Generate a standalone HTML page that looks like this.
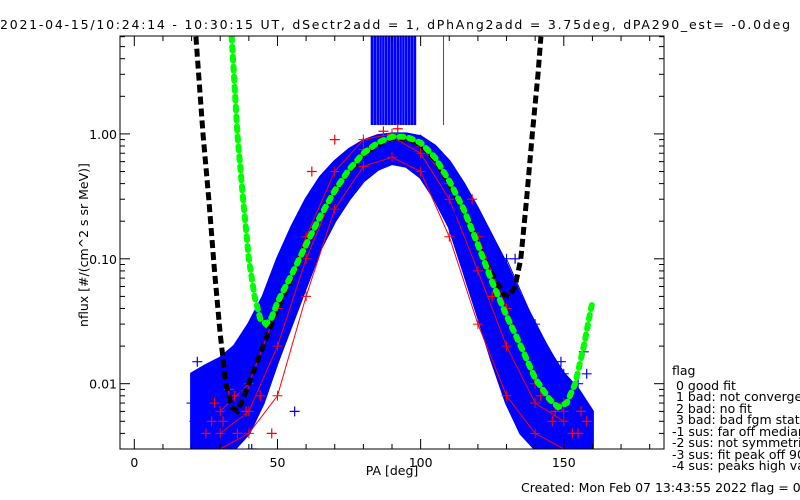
<!DOCTYPE html>
<html><head><meta charset="utf-8">
<style>
html,body{margin:0;padding:0;background:#fff;}
svg{display:block;font-family:"DejaVu Sans","Liberation Sans",sans-serif;}
text{font-size:12.5px;fill:#000;}
</style></head>
<body>
<svg id="chart" width="800" height="500" viewBox="0 0 800 500" xmlns="http://www.w3.org/2000/svg">
<text x="0" y="29" font-size="14" textLength="790" lengthAdjust="spacing">2021-04-15/10:24:14 - 10:30:15 UT, dSectr2add = 1, dPhAng2add = 3.75deg, dPA290_est=  -0.0deg</text>
<g id="data"></g>
<g id="axes"></g>
<text transform="translate(88,245) rotate(-90)" text-anchor="middle" font-size="12">nflux [#/(cm^2 s sr MeV)]</text>
<text x="392" y="475" text-anchor="middle">PA [deg]</text>
<g font-size="13">
<text x="672" y="375" font-size="13">flag</text>
<text x="676" y="390" font-size="13">0 good fit</text>
<text x="676" y="401" font-size="13"> 1 bad: not converge</text>
<text x="676" y="413" font-size="13"> 2 bad: no fit</text>
<text x="676" y="424" font-size="13"> 3 bad: bad fgm stat</text>
<text x="672" y="436" font-size="13">-1 sus: far off median</text>
<text x="672" y="447" font-size="13">-2 sus: not symmetric</text>
<text x="672" y="459" font-size="13">-3 sus: fit peak off 90</text>
<text x="672" y="470" font-size="13">-4 sus: peaks high val</text>
</g>
<text x="521" y="492" font-size="13">Created: Mon Feb 07 13:43:55 2022   flag = 0</text>
</svg>
<script>
const xTicks=[0,50,100,150];
const yTicks=[0.01,0.10,1.00];
const yTickLabels=["0.01","0.10","1.00"];
const bandPA=[20,25,30,35,40,45,50,55,60,65,70,75,80,85,90,95,100,105,110,115,120,125,130,135,140,145,150,155,160];
const bandUpper=[0.012,0.014,0.016,0.02,0.03,0.05,0.1,0.18,0.3,0.45,0.6,0.75,0.88,0.97,1.0,1.0,0.95,0.8,0.6,0.4,0.25,0.15,0.09,0.05,0.03,0.018,0.012,0.009,0.006];
const bandLower=[0.003,0.003,0.003,0.003,0.004,0.007,0.015,0.03,0.06,0.12,0.2,0.3,0.42,0.52,0.58,0.55,0.45,0.3,0.18,0.08,0.035,0.015,0.007,0.004,0.003,0.003,0.003,0.003,0.003];
const greenPA=[34,36,38,40,42,44,46,48,50,55,60,65,70,75,80,85,90,95,100,105,110,115,120,125,130,135,140,145,148,151,154,157,159,160];
const greenFlux=[6,1,0.3,0.1,0.05,0.033,0.03,0.034,0.045,0.075,0.13,0.22,0.35,0.52,0.7,0.85,0.95,0.95,0.85,0.65,0.42,0.25,0.13,0.065,0.035,0.02,0.011,0.0075,0.0065,0.007,0.01,0.02,0.035,0.045];
const blackPA=[21.5,24,26,28,30,32,34,36,38,40,45,50,55,60,65,70,75,80,85,90,95,100,105,110,115,120,125,129,131,133,135,137,139,141,142];
const blackFlux=[6,1,0.3,0.08,0.025,0.01,0.0065,0.006,0.0075,0.01,0.02,0.04,0.07,0.13,0.22,0.35,0.5,0.68,0.82,0.92,0.92,0.82,0.62,0.4,0.24,0.13,0.075,0.052,0.05,0.06,0.1,0.3,1,3,6];
const blueSpikes=[83,84,85,86,87,88,89,90,91,92,93,94,95,96,97,98];
const redSpikes=[108];
const profPA=[30,40,50,60,70,80,90,100,110,120,130,140,150];
const redProf1=[0.004,0.006,0.02,0.1,0.35,0.75,0.95,0.7,0.3,0.08,0.02,0.007,0.005];
const redProf2=[0.006,0.01,0.04,0.15,0.5,0.9,1.0,0.8,0.4,0.15,0.04,0.01,0.006];
const redProf3=[0.003,0.004,0.008,0.05,0.25,0.55,0.65,0.5,0.15,0.03,0.008,0.004,0.003];
const blueProf1=[0.012,0.02,0.06,0.2,0.5,0.85,1.0,0.9,0.5,0.2,0.06,0.02,0.01];
const blueProf2=[0.007,0.01,0.03,0.12,0.4,0.8,0.95,0.75,0.35,0.1,0.1,0.03,0.012];
const redMarkPA=[25,28,31,33,36,39,44,48,142,146,150,153,156,158,62,70,118,125,87,92,27,35,147,155];
const redMarkFlux=[0.004,0.007,0.005,0.009,0.004,0.006,0.008,0.004,0.008,0.005,0.007,0.004,0.006,0.005,0.5,0.9,0.3,0.05,1.05,1.1,0.005,0.008,0.006,0.004];
const blueMarkPA=[20,22,24,27,29,32,35,38,41,56,140,145,149,152,155,157,112,128,133,21,23,26,30,33,37,143,147,151,154,158];
const blueMarkFlux=[0.007,0.015,0.004,0.01,0.008,0.013,0.004,0.006,0.003,0.006,0.012,0.008,0.015,0.004,0.01,0.018,0.22,0.1,0.1,0.005,0.009,0.006,0.011,0.007,0.009,0.01,0.006,0.009,0.007,0.012];

const X0=120,X1=664,Y0=36,Y1=449,xmin=-5,xmax=185;
const lmin=Math.log10(0.003),lmax=Math.log10(6.08);
const sx=v=>X0+(v-xmin)/(xmax-xmin)*(X1-X0);
const sy=v=>Y1-(Math.log10(v)-lmin)/(lmax-lmin)*(Y1-Y0);
const NS="http://www.w3.org/2000/svg";
const data=document.getElementById('data'),axes=document.getElementById('axes');
function mk(tag,at,parent){const e=document.createElementNS(NS,tag);for(const k in at)e.setAttribute(k,at[k]);parent.appendChild(e);return e;}
const clip=mk('clipPath',{id:'cp'},data);mk('rect',{x:X0,y:Y0,width:X1-X0,height:Y1-Y0},clip);
const g=mk('g',{'clip-path':'url(#cp)'},data);
const pts=(xs,ys)=>xs.map((x,i)=>sx(x).toFixed(1)+','+sy(ys[i]).toFixed(1)).join(' ');
let bp=pts(bandPA,bandUpper)+' '+pts(bandPA.slice().reverse(),bandLower.slice().reverse());
const band=mk('polygon',{points:bp,fill:'#0000ff',stroke:'#0000ff','stroke-width':3},g);


blueSpikes.forEach(p=>{const l=mk('line',{x1:sx(p),x2:sx(p),y1:Y0,y2:125,stroke:'#0000ff','stroke-width':2.6},g);

});
redSpikes.forEach(p=>{const l=mk('line',{x1:sx(p),x2:sx(p),y1:Y0,y2:125,stroke:'#ff0000','stroke-width':1},g);

});
[[blueProf1,'#0000ff'],[blueProf2,'#0000ff'],[redProf1,'#ff0000'],[redProf2,'#ff0000'],[redProf3,'#ff0000']].forEach(([arr,c])=>{
 const l=mk('polyline',{points:pts(profPA,arr),fill:'none',stroke:c,'stroke-width':1},g);
 
 
 profPA.forEach((p,i)=>{const m=mk('path',{d:`M${sx(p)-5},${sy(arr[i])}h10M${sx(p)},${sy(arr[i])-5}v10`,stroke:c,'stroke-width':1},g);
 
 });
});
function marks(xs,ys,c){xs.forEach((p,i)=>{const m=mk('path',{d:`M${sx(p)-5},${sy(ys[i])}h10M${sx(p)},${sy(ys[i])-5}v10`,stroke:c,'stroke-width':1.2},g);
 
 });}
marks(blueMarkPA,blueMarkFlux,'#0000ff');marks(redMarkPA,redMarkFlux,'#ff0000');
const bl=mk('polyline',{points:pts(blackPA,blackFlux),fill:'none',stroke:'#000','stroke-width':5,'stroke-dasharray':'8 4','stroke-linecap':'butt'},g);


const gl=mk('polyline',{points:pts(greenPA,greenFlux),fill:'none',stroke:'#00ff00','stroke-width':6,'stroke-dasharray':'4 6','stroke-linecap':'round'},g);


mk('rect',{x:X0,y:Y0,width:X1-X0,height:Y1-Y0,fill:'none',stroke:'#000','stroke-width':1},axes);
for(let v=0;v<=180;v+=10){const maj=v%50===0,L=maj?10:5,x=sx(v);
 mk('line',{x1:x,x2:x,y1:Y1,y2:Y1-L,stroke:'#000'},axes);mk('line',{x1:x,x2:x,y1:Y0,y2:Y0+L,stroke:'#000'},axes);}
xTicks.forEach(v=>{const t=mk('text',{x:sx(v),y:467,'text-anchor':'middle'},axes);t.textContent=v;
 
 });
for(let d=-3;d<=0;d++)for(let k=1;k<=9;k++){const v=k*Math.pow(10,d);if(v<0.003||v>6.08)continue;const y=sy(v),L=k===1?10:5;
 mk('line',{x1:X0,x2:X0+L,y1:y,y2:y,stroke:'#000'},axes);mk('line',{x1:X1,x2:X1-L,y1:y,y2:y,stroke:'#000'},axes);}
yTicks.forEach((v,i)=>{const t=mk('text',{x:117,y:sy(v)+5,'text-anchor':'end','font-size':12},axes);t.textContent=yTickLabels[i];
 
 });
</script>
</body></html>
